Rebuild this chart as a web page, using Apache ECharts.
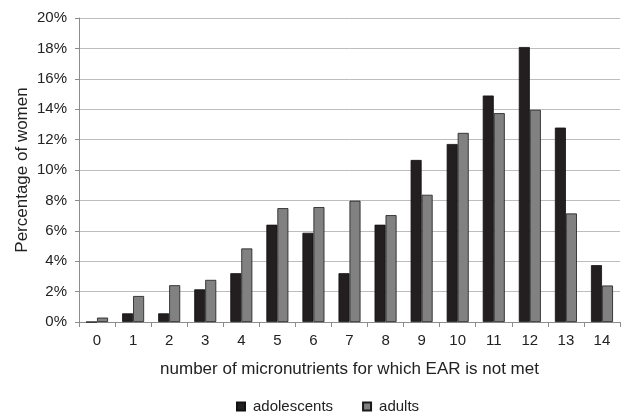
<!DOCTYPE html>
<html>
<head>
<meta charset="utf-8">
<script src="https://cdn.jsdelivr.net/npm/echarts@6/dist/echarts.min.js"></script>
<style>
  html, body { margin: 0; padding: 0; background: #fff; }
  #chart { width: 622px; height: 415px; }
</style>
</head>
<body>
<div id="chart"></div>
<script>
var categories = ['0', '1', '2', '3', '4', '5', '6', '7', '8', '9', '10', '11', '12', '13', '14'];
var adolescents = [0, 0.57, 0.57, 2.15, 3.21, 6.40, 5.87, 3.21, 6.40, 10.66, 11.71, 14.90, 18.09, 12.79, 3.74];
var adults = [0.29, 1.71, 2.42, 2.77, 4.84, 7.49, 7.56, 7.98, 7.03, 8.37, 12.44, 13.74, 13.96, 7.14, 2.40];
var yTicks = { min: 0, max: 20, interval: 2 };

var chart = echarts.init(document.getElementById('chart'));
var font = 'Liberation Sans, Arial, sans-serif';

var option = {
  animation: false,
  textStyle: { fontFamily: font },
  grid: { left: 79, right: 2, top: 18, bottom: 93 },
  legend: {
    top: 394,
    left: 231,
    itemWidth: 8,
    itemHeight: 8,
    itemGap: 29,
    icon: 'rect',
    textStyle: { fontFamily: font, fontSize: 15, color: '#222', padding: [0, 0, 0, 3] },
    data: ['adolescents', 'adults']
  },
  xAxis: {
    type: 'category',
    data: categories,
    name: 'number of micronutrients for which EAR is not met',
    nameLocation: 'middle',
    nameGap: 39,
    nameMoveOverlap: false,
    nameTextStyle: { fontFamily: font, fontSize: 17, color: '#222' },
    axisLine: { lineStyle: { color: '#8c8c8c' } },
    axisTick: { show: true, length: 5, lineStyle: { color: '#8c8c8c' } },
    axisLabel: { fontFamily: font, fontSize: 15, color: '#222', margin: 11 }
  },
  yAxis: {
    type: 'value',
    min: yTicks.min,
    max: yTicks.max,
    interval: yTicks.interval,
    name: 'Percentage of women',
    nameLocation: 'middle',
    nameGap: 48,
    nameMoveOverlap: false,
    nameTextStyle: { fontFamily: font, fontSize: 17, color: '#222' },
    axisLine: { show: true, lineStyle: { color: '#8c8c8c' } },
    axisTick: { show: true, length: 4, lineStyle: { color: '#8c8c8c' } },
    axisLabel: { fontFamily: font, fontSize: 15, color: '#222', margin: 12, formatter: '{value}%' },
    splitLine: { lineStyle: { color: '#bdbdbd' } }
  },
  series: [
    {
      name: 'adolescents',
      type: 'bar',
      data: adolescents,
      barWidth: 11,
      barGap: '0%',
      itemStyle: { color: '#231f20', borderColor: '#111', borderWidth: 0.8 }
    },
    {
      name: 'adults',
      type: 'bar',
      data: adults,
      barWidth: 11,
      itemStyle: { color: '#818181', borderColor: '#1a1a1a', borderWidth: 0.8 }
    }
  ]
};

option && chart.setOption(option);
</script>
</body>
</html>
